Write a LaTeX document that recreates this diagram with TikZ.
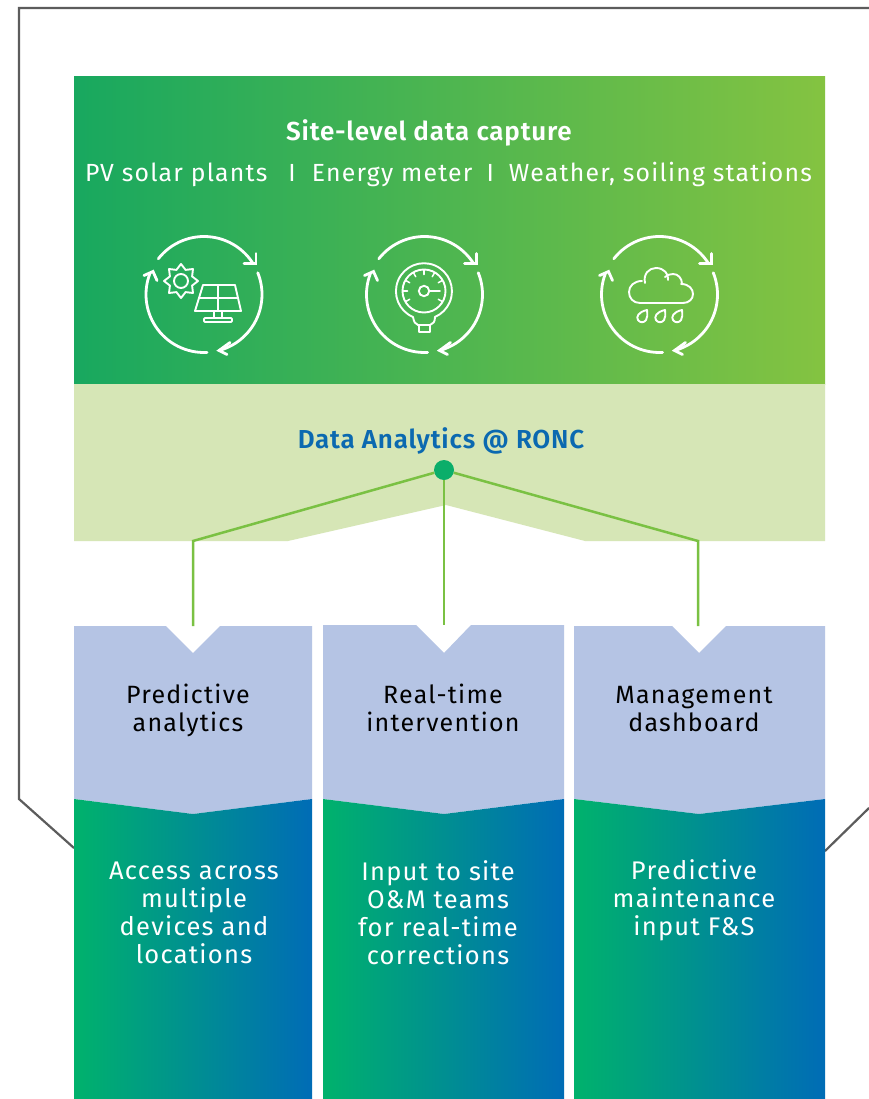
\documentclass[tikz,border=0pt]{standalone}
\usepackage{fontspec}
\setmainfont[LetterSpace=5]{Fira Sans}
\newfontfamily\boldface[LetterSpace=3]{Fira Sans SemiBold}
\definecolor{topL}{HTML}{18A85F}
\definecolor{topR}{HTML}{84C341}
\definecolor{pale}{HTML}{D6E6B6}
\definecolor{lav}{HTML}{B5C4E4}
\definecolor{gradL}{HTML}{00B26C}
\definecolor{gradR}{HTML}{006CB6}
\definecolor{link}{HTML}{7AC143}
\definecolor{hubc}{HTML}{0BAE6A}
\definecolor{rule}{HTML}{5C5C5C}
\definecolor{ttl}{HTML}{0B69B0}
\tikzset{
  icon/.style={draw=white,line width=1.9pt,line cap=round,line join=round},
  cyc/.style={draw=white,line width=2.8pt,line cap=round,line join=miter},
  link/.style={draw=link,line width=2.5pt},
  body/.style={font=\fontsize{25.5}{28}\selectfont,align=center,text=white,inner sep=0pt},
  dark/.style={font=\fontsize{25}{28}\selectfont,align=center,text=black,inner sep=0pt},
}
\newcommand{\cycle}[2]{%
  \begin{scope}[shift={(#1,#2)}]
    \draw[cyc] (218:58) arc (218:328:58);
    \draw[cyc] (40,-31) -- (52,-31) -- (52,-41);
    \draw[cyc] (338:58) arc (338:435:58);
    \draw[cyc] (26,48) -- (15,56) -- (23,60);
    \draw[cyc] (447:58) arc (447:561:58);
    \draw[cyc] (-60,-19) -- (-51,-23) -- (-47,-14);
  \end{scope}}
\newcommand{\drop}[2]{%
  \draw[icon] (#1+5,#2-7) .. controls (#1+5.5,#2-2) and (#1+5.5,#2+1) .. (#1+4,#2+3)
     .. controls (#1+2,#2+6) and (#1-2,#2+6) .. (#1-4,#2+3)
     .. controls (#1-6,#2) and (#1-4,#2-5) .. cycle;}
\begin{document}
\begin{tikzpicture}[x=1pt,y=-1pt]
\useasboundingbox[fill=white] (0,0) rectangle (869,1099);
% outer frame
\coordinate (fr0) at (869,8);
\coordinate (fr1) at (19,8);
\coordinate (fr2) at (19,799);
\coordinate (fr3) at (74,848);
\coordinate (fr4) at (825,851);
\coordinate (fr5) at (869,808);
\draw[rule,line width=2.2pt,line join=miter] (fr0) -- (fr1) -- (fr2) -- (fr3);
\draw[rule,line width=2.2pt] (fr4) -- (fr5);
% bands
\shade[left color=topL,right color=topR] (74,76.6) rectangle (825,384);
\fill[pale] (74,384) -- (825,384) -- (825,541) -- (585,541) -- (446,505) -- (288,541) -- (74,541) -- cycle;
% lavender boxes
\fill[lav] (74,626) -- (166,626) -- (193,653) -- (220,626) -- (312,626) -- (312,799) -- (193,814) -- (74,799) -- cycle;
\fill[lav] (323,625) -- (416,625) -- (444,653) -- (471,625) -- (564,625) -- (564,799) -- (444,814) -- (323,799) -- cycle;
\fill[lav] (574,626) -- (672,626) -- (699,653) -- (726,626) -- (825,626) -- (825,799) -- (699,814) -- (574,799) -- cycle;
% gradient boxes
\shade[left color=gradL,right color=gradR] (74,799) -- (193,814) -- (312,799) -- (312,1099) -- (74,1099) -- cycle;
\shade[left color=gradL,right color=gradR] (323,799) -- (444,814) -- (564,799) -- (564,1099) -- (323,1099) -- cycle;
\shade[left color=gradL,right color=gradR] (574,799) -- (699,814) -- (825,799) -- (825,1099) -- (574,1099) -- cycle;
% connectors
\node[circle,fill=hubc,minimum size=20pt,inner sep=0pt] (hub) at (444,470) {};
\coordinate (kneeL) at (193,541);
\coordinate (kneeR) at (698,541);
\coordinate (endL) at (193,626);
\coordinate (endM) at (444,625);
\coordinate (endR) at (698,626);
\draw[link] (hub) -- (kneeL) -- (endL);
\draw[link] (hub) -- (endM);
\draw[link] (hub) -- (kneeR) -- (endR);
% text
\node[text=white,inner sep=0pt,font=\boldface\fontsize{26}{28}\selectfont] (t1) at (429,133) {Site-level data capture};
\node[text=white,inner sep=0pt,font=\fontsize{24.8}{28}\selectfont] (t2) at (448.5,174) {PV solar plants\hspace{21pt}I\hspace{16pt}Energy meter\hspace{14pt}I\hspace{15pt}Weather, soiling stations};
\node[text=ttl,inner sep=0pt,font=\boldface\fontsize{26}{28}\selectfont] (t3) at (441,441) {Data Analytics @ RONC};
\node[dark] (a1) at (188,710) {Predictive\\analytics};
\node[dark] (a2) at (443,708) {Real-time\\intervention};
\node[dark] (a3) at (694,709) {Management\\dashboard};
\node[body] (b1) at (194,913) {Access across\\multiple\\devices and\\locations};
\node[body] (b2) at (438,913) {Input to site\\O\&M teams\\for real-time\\corrections};
\node[body] (b3) at (694,900) {Predictive\\maintenance\\input F\&S};
% cycles
\cycle{204}{294.5}
\cycle{424.5}{294.5}
\cycle{659.5}{294.5}
% sun
\draw[icon] (181,281) circle (7);
\draw[icon] (198,281) -- (192.1,285.6) -- (193,293) -- (185.6,292.1) -- (181,298) -- (176.4,292.1) -- (169,293) -- (169.9,285.6) -- (164,281) -- (169.9,276.4) -- (169,269) -- (176.4,269.9) -- (181,264) -- (185.6,269.9) -- (193,269) -- (192.1,276.4) -- cycle;
% panel
\draw[icon] (203,285) -- (235,285) -- (241,311) -- (195,311) -- cycle;
\draw[icon] (218,285) -- (218,311);
\draw[icon] (199,298) -- (238,298);
\draw[icon] (214,311) -- (214,318);
\draw[icon] (222,311) -- (222,318);
\draw[icon,rounded corners=1pt] (204,318) rectangle (232,322);
% gauge
\draw[icon] (413,317) arc (113:427:28);
\draw[icon] (424,291) circle (21.5);
\draw[icon] (424,291) circle (5.2);
\draw[icon] (429,291) -- (440,291);
\foreach \a in {150,180,210,240,270,300,330,30}{
  \draw[icon,line width=1.5pt] (424,291) ++(\a:21) -- ++(\a:-4.5);
}
\draw[icon] (413,317) .. controls (414,322) and (415,324) .. (418,325) -- (430,325) .. controls (433,324) and (435,322) .. (435,317);
\draw[icon] (419,325) -- (419,332) -- (430,332) -- (430,325);
% cloud
\draw[icon] (640,303) .. controls (633,303) and (629,298) .. (629,292) .. controls (629,286) and (634,281) .. (642,281);
\draw[icon] (645,283) .. controls (643,274) and (649,268) .. (656,268) .. controls (664,268) and (669,274) .. (668,280);
\draw[icon] (665,277) .. controls (667,275) and (670,274) .. (673,274) .. controls (678,274) and (682,278) .. (682,284);
\draw[icon] (681,284) .. controls (689,284) and (693,289) .. (693,294) .. controls (693,299) and (689,303) .. (683,303) -- (640,303);
\drop{642}{317}
\drop{660}{317}
\drop{677}{317}
\end{tikzpicture}
\end{document}
